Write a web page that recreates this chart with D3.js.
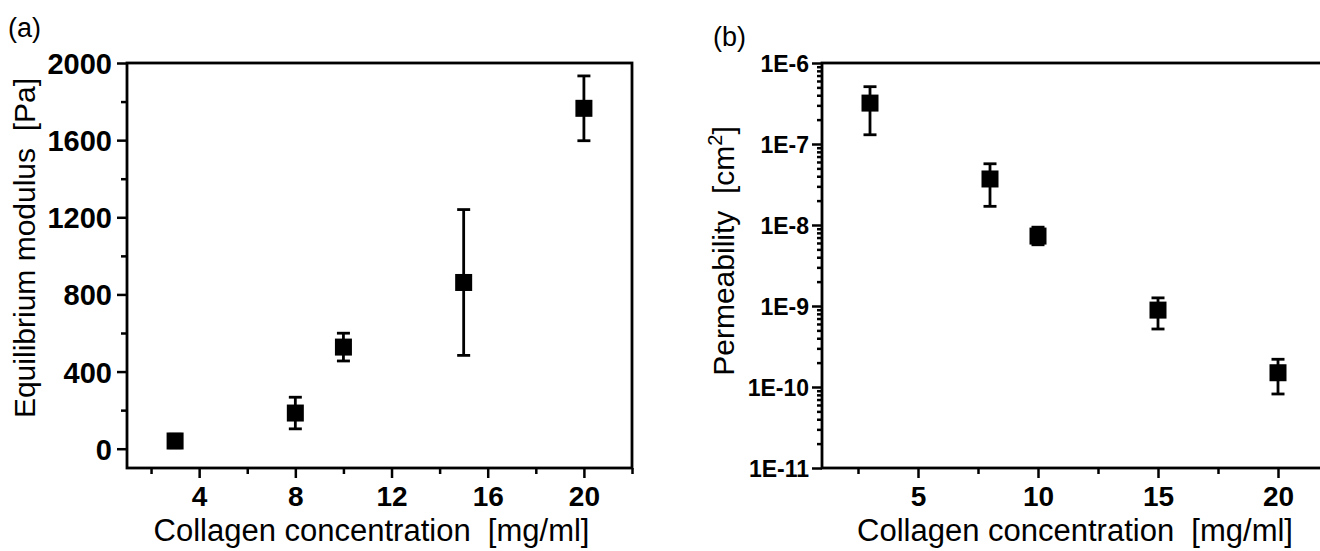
<!DOCTYPE html>
<html>
<head>
<meta charset="utf-8">
<script src="https://cdn.jsdelivr.net/npm/d3@7"></script>
<style>
  body { margin: 0; background: #fff; }
  svg { display: block; font-family: "Liberation Sans", Arial, sans-serif; }
  text { white-space: pre; }
  .tick text { font-weight: bold; fill: #000; font-family: "Liberation Sans", Arial, sans-serif; }
  .tick line { stroke: #000; stroke-width: 2.5; }
</style>
</head>
<body>
<svg id="chart" width="1320" height="551"></svg>
<script>
// panel (a): equilibrium modulus
const concA = [3, 8, 10, 15, 20]
const modulus = [40, 185, 527, 862, 1765]
const modulusErr = [35, 82, 72, 378, 168]
const ticksAX = [4, 8, 12, 16, 20]
const minorAX = [2, 6, 10, 14, 18, 22]
const ticksAY = [0, 400, 800, 1200, 1600, 2000]
const minorAY = [200, 600, 1000, 1400, 1800]

// panel (b): permeability
const concB = [3, 8, 10, 15, 20]
const perm = [3.2e-7, 3.7e-8, 7.3e-9, 8.9e-10, 1.5e-10]
const permLow = [1.3e-7, 1.7e-8, 5.7e-9, 5.2e-10, 8.2e-11]
const permHigh = [5.1e-7, 5.7e-8, 9.4e-9, 1.26e-9, 2.2e-10]
const ticksBX = [5, 10, 15, 20]
const minorBX = [2.5, 7.5, 12.5, 17.5]
const ticksBY = [1e-11, 1e-10, 1e-9, 1e-8, 1e-7, 1e-6]

const svg = d3.select("#chart")
svg.append("rect").attr("width", 1320).attr("height", 551).attr("fill", "#fff")

const plotTop = 63, plotBottom = 468
const sq = 17, cap = 13

function styleAxis(g) {
  g.select(".domain").remove()
}

// ---------- panel (a) ----------
const xA = d3.scaleLinear().domain([1, 22]).range([127, 632])
const yA = d3.scaleLinear().domain([-100, 2000]).range([plotBottom, plotTop])

const gA = svg.append("g")

gA.append("g")
  .attr("transform", `translate(0,${plotBottom})`)
  .call(d3.axisBottom(xA).tickValues(ticksAX).tickSize(10).tickPadding(8).tickSizeOuter(0))
  .call(styleAxis)
  .selectAll("text").attr("font-size", 28)
gA.append("g")
  .attr("transform", `translate(0,${plotBottom})`)
  .call(d3.axisBottom(xA).tickValues(minorAX).tickSize(6).tickFormat(""))
  .call(styleAxis)

gA.append("g")
  .attr("transform", `translate(${xA.range()[0]},0)`)
  .call(d3.axisLeft(yA).tickValues(ticksAY).tickSize(10).tickPadding(5).tickSizeOuter(0).tickFormat(d3.format("d")))
  .call(styleAxis)
  .selectAll("text").attr("font-size", 29).attr("dy", "0.36em")
gA.append("g")
  .attr("transform", `translate(${xA.range()[0]},0)`)
  .call(d3.axisLeft(yA).tickValues(minorAY).tickSize(6).tickFormat(""))
  .call(styleAxis)

gA.append("rect")
  .attr("x", xA.range()[0]).attr("y", plotTop)
  .attr("width", xA.range()[1] - xA.range()[0]).attr("height", plotBottom - plotTop)
  .attr("fill", "none").attr("stroke", "#000").attr("stroke-width", 2.8)

const ptsA = concA.map((c, i) => ({ x: c, y: modulus[i], lo: modulus[i] - modulusErr[i], hi: modulus[i] + modulusErr[i] }))

const errA = gA.selectAll(".errA").data(ptsA).enter().append("g")
errA.append("line")
  .attr("x1", (d) => xA(d.x)).attr("x2", (d) => xA(d.x))
  .attr("y1", (d) => yA(d.lo)).attr("y2", (d) => yA(d.hi))
errA.append("line")
  .attr("x1", (d) => xA(d.x) - cap / 2).attr("x2", (d) => xA(d.x) + cap / 2)
  .attr("y1", (d) => yA(d.lo)).attr("y2", (d) => yA(d.lo))
errA.append("line")
  .attr("x1", (d) => xA(d.x) - cap / 2).attr("x2", (d) => xA(d.x) + cap / 2)
  .attr("y1", (d) => yA(d.hi)).attr("y2", (d) => yA(d.hi))
errA.selectAll("line").attr("stroke", "#000").attr("stroke-width", 2.8)

gA.selectAll(".ptA").data(ptsA).enter().append("rect")
  .attr("x", (d) => xA(d.x) - sq / 2).attr("y", (d) => yA(d.y) - sq / 2)
  .attr("width", sq).attr("height", sq).attr("fill", "#000")

gA.append("text")
  .attr("x", (xA.range()[0] + xA.range()[1]) / 2 - 8).attr("y", 541)
  .attr("text-anchor", "middle").attr("font-size", 31)
  .text("Collagen concentration  [mg/ml]")
gA.append("text")
  .attr("transform", "translate(35,248) rotate(-90)")
  .attr("text-anchor", "middle").attr("font-size", 30)
  .text("Equilibrium modulus  [Pa]")
gA.append("text").attr("x", 8).attr("y", 37).attr("font-size", 27).text("(a)")

// ---------- panel (b) ----------
const xB = d3.scaleLinear().domain([1, 22]).range([822, 1326])
const yB = d3.scaleLog().domain([1e-11, 1e-6]).range([plotBottom, plotTop])

const minorBY = []
ticksBY.slice(0, -1).forEach((t) => {
  for (let k = 2; k <= 9; k++) minorBY.push(t * k)
})

const gB = svg.append("g")

gB.append("g")
  .attr("transform", `translate(0,${plotBottom})`)
  .call(d3.axisBottom(xB).tickValues(ticksBX).tickSize(10).tickPadding(8).tickSizeOuter(0))
  .call(styleAxis)
  .selectAll("text").attr("font-size", 28)
gB.append("g")
  .attr("transform", `translate(0,${plotBottom})`)
  .call(d3.axisBottom(xB).tickValues(minorBX).tickSize(6).tickFormat(""))
  .call(styleAxis)

gB.append("g")
  .attr("transform", `translate(${xB.range()[0]},0)`)
  .call(d3.axisLeft(yB).tickValues(ticksBY).tickSize(10).tickPadding(3)
    .tickFormat((d) => "1E" + Math.round(Math.log10(d))))
  .call(styleAxis)
  .selectAll("text").attr("font-size", 23).attr("dy", "0.36em")
gB.append("g")
  .attr("transform", `translate(${xB.range()[0]},0)`)
  .call(d3.axisLeft(yB).tickValues(minorBY).tickSize(5).tickFormat(""))
  .call(styleAxis)
  .selectAll("line").attr("stroke-width", 2)

gB.append("rect")
  .attr("x", xB.range()[0]).attr("y", plotTop)
  .attr("width", xB.range()[1] - xB.range()[0]).attr("height", plotBottom - plotTop)
  .attr("fill", "none").attr("stroke", "#000").attr("stroke-width", 2.8)

const ptsB = concB.map((c, i) => ({ x: c, y: perm[i], lo: permLow[i], hi: permHigh[i] }))

const errB = gB.selectAll(".errB").data(ptsB).enter().append("g")
errB.append("line")
  .attr("x1", (d) => xB(d.x)).attr("x2", (d) => xB(d.x))
  .attr("y1", (d) => yB(d.lo)).attr("y2", (d) => yB(d.hi))
errB.append("line")
  .attr("x1", (d) => xB(d.x) - cap / 2).attr("x2", (d) => xB(d.x) + cap / 2)
  .attr("y1", (d) => yB(d.lo)).attr("y2", (d) => yB(d.lo))
errB.append("line")
  .attr("x1", (d) => xB(d.x) - cap / 2).attr("x2", (d) => xB(d.x) + cap / 2)
  .attr("y1", (d) => yB(d.hi)).attr("y2", (d) => yB(d.hi))
errB.selectAll("line").attr("stroke", "#000").attr("stroke-width", 2.8)

gB.selectAll(".ptB").data(ptsB).enter().append("rect")
  .attr("x", (d) => xB(d.x) - sq / 2).attr("y", (d) => yB(d.y) - sq / 2)
  .attr("width", sq).attr("height", sq).attr("fill", "#000")

gB.append("text")
  .attr("x", 1075).attr("y", 541)
  .attr("text-anchor", "middle").attr("font-size", 31)
  .text("Collagen concentration  [mg/ml]")
const yTitleB = gB.append("text")
  .attr("transform", "translate(734,251) rotate(-90)")
  .attr("text-anchor", "middle").attr("font-size", 30)
yTitleB.append("tspan").text("Permeability  [cm")
yTitleB.append("tspan").attr("dy", -12).attr("font-size", 20).text("2")
yTitleB.append("tspan").attr("dy", 12).text("]")
gB.append("text").attr("x", 713).attr("y", 46).attr("font-size", 27).text("(b)")
</script>
</body>
</html>
